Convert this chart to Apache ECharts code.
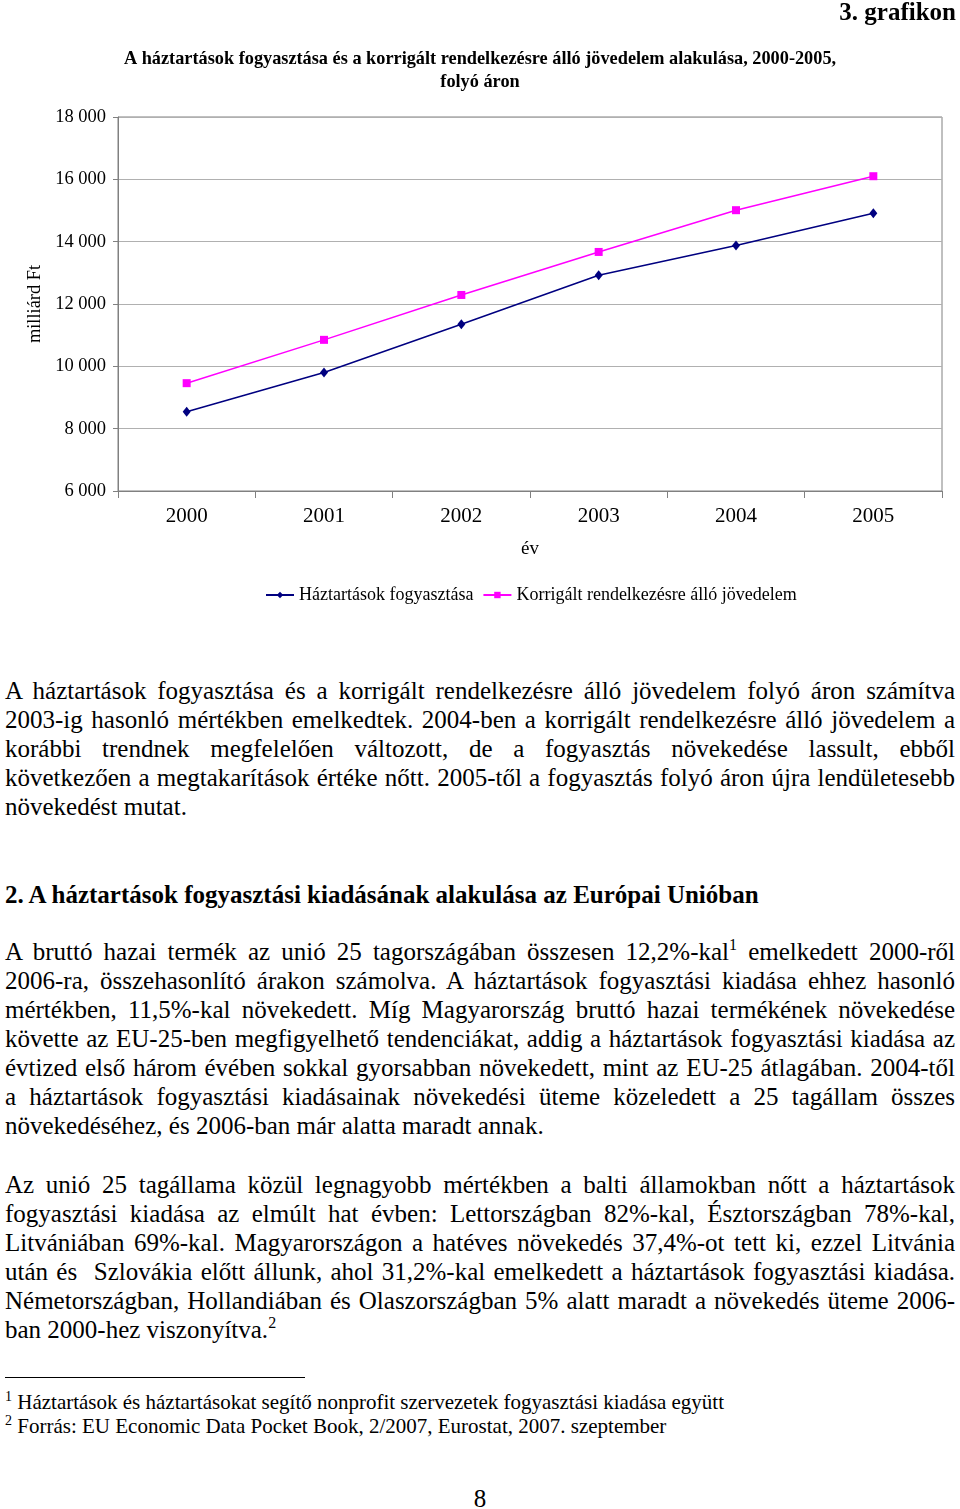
<!DOCTYPE html>
<html><head><meta charset="utf-8">
<script src="https://cdn.jsdelivr.net/npm/echarts@6/dist/echarts.min.js"></script>
<style>
html,body{margin:0;padding:0;background:#fff;width:960px;height:1509px;overflow:hidden;}
#chart{position:absolute;left:0;top:0;width:960px;height:640px;}
.t{position:absolute;left:5px;width:950px;font-family:"Liberation Serif","Times New Roman",serif;font-size:25px;line-height:29px;color:#000;white-space:nowrap;}
.j{text-align:justify;text-align-last:justify;}
.t sup{font-size:16px;line-height:0;vertical-align:0;position:relative;top:-10px;}
.fn{font-size:21px;line-height:24px;}
.fn sup{font-size:14px;top:-8px;}
.h{font-weight:bold;}
</style></head>
<body>
<div id="chart"></div>
<div id="text"></div>
<script>
const years = ['2000','2001','2002','2003','2004','2005'];
const consumption = [8540, 9800, 11350, 12920, 13880, 14910];
const income = [9460, 10850, 12290, 13670, 15010, 16100];
const seriesNames = ['Háztartások fogyasztása','Korrigált rendelkezésre álló jövedelem'];
const yMin = 6000, yMax = 18000, yStep = 2000;

const font = 'Liberation Serif';
const chart = echarts.init(document.getElementById('chart'), null, {renderer:'canvas'});
chart.setOption({
  animation:false,
  textStyle:{fontFamily:font,color:'#000'},
  title:[
    {text:'3. grafikon', right:4, top:1, padding:0, textStyle:{fontFamily:font,fontSize:25,fontWeight:'bold',color:'#000'}}
  ],
  graphic:[
    {type:'text', left:'center', top:50, style:{
      text:'A háztartások fogyasztása és a korrigált rendelkezésre álló jövedelem alakulása, 2000-2005,',
      fontFamily:font, fontSize:18.3, fontWeight:'bold', fill:'#000'}},
    {type:'text', left:'center', top:73, style:{
      text:'folyó áron',
      fontFamily:font, fontSize:18.3, fontWeight:'bold', fill:'#000'}}
  ],
  legend:{
    left:260, top:581, itemWidth:28, itemHeight:8, itemGap:9,
    textStyle:{fontFamily:font,fontSize:18,color:'#000'},
    data:seriesNames
  },
  grid:{left:118, right:18, top:117, bottom:149, show:true, borderColor:'#808080', borderWidth:1},
  xAxis:{
    type:'category', data:years, boundaryGap:true,
    name:'év', nameLocation:'middle', nameGap:49,
    nameTextStyle:{fontFamily:font,fontSize:19,color:'#000'},
    axisLine:{lineStyle:{color:'#808080',width:1}},
    axisTick:{show:true,length:7,lineStyle:{color:'#808080'}},
    axisLabel:{fontFamily:font,fontSize:21,color:'#000',margin:15}
  },
  yAxis:{
    type:'value', min:yMin, max:yMax, interval:yStep,
    name:'milliárd Ft', nameLocation:'middle', nameGap:72, nameRotate:90,
    nameTextStyle:{fontFamily:font,fontSize:18.4,color:'#000'},
    axisLine:{show:true,lineStyle:{color:'#808080',width:1}},
    axisTick:{show:true,length:5,lineStyle:{color:'#808080'}},
    axisLabel:{fontFamily:font,fontSize:18.5,color:'#000',margin:12,
      formatter:v=>String(v).replace(/\B(?=(\d{3})+(?!\d))/g,' ')},
    splitLine:{lineStyle:{color:'#b0b0b0',width:1}}
  },
  series:[
    {name:seriesNames[0], type:'line', data:consumption, symbol:'diamond', symbolSize:[8,10],
     itemStyle:{color:'#000080'}, lineStyle:{color:'#000080',width:1.5}},
    {name:seriesNames[1], type:'line', data:income, symbol:'rect', symbolSize:8,
     itemStyle:{color:'#ff00ff'}, lineStyle:{color:'#ff00ff',width:1.5}}
  ]
});

const lines = [
  [690,'A háztartások fogyasztása és a korrigált rendelkezésre álló jövedelem folyó áron számítva','j'],
  [719,'2003-ig hasonló mértékben emelkedtek. 2004-ben a korrigált rendelkezésre álló jövedelem a','j'],
  [748,'korábbi trendnek megfelelően változott, de a fogyasztás növekedése lassult, ebből','j'],
  [777,'következően a megtakarítások értéke nőtt. 2005-től a fogyasztás folyó áron újra lendületesebb','j'],
  [806,'növekedést mutat.',''],
  [894,'2. A háztartások fogyasztási kiadásának alakulása az Európai Unióban','h'],
  [951,'A bruttó hazai termék az unió 25 tagországában összesen 12,2%-kal<sup>1</sup> emelkedett 2000-ről','j'],
  [980,'2006-ra, összehasonlító árakon számolva. A háztartások fogyasztási kiadása ehhez hasonló','j'],
  [1009,'mértékben, 11,5%-kal növekedett. Míg Magyarország bruttó hazai termékének növekedése','j'],
  [1038,'követte az EU-25-ben megfigyelhető tendenciákat, addig a háztartások fogyasztási kiadása az','j'],
  [1067,'évtized első három évében sokkal gyorsabban növekedett, mint az EU-25 átlagában. 2004-től','j'],
  [1096,'a háztartások fogyasztási kiadásainak növekedési üteme közeledett a 25 tagállam összes','j'],
  [1125,'növekedéséhez, és 2006-ban már alatta maradt annak.',''],
  [1184,'Az unió 25 tagállama közül legnagyobb mértékben a balti államokban nőtt a háztartások','j'],
  [1213,'fogyasztási kiadása az elmúlt hat évben: Lettországban 82%-kal, Észtországban 78%-kal,','j'],
  [1242,'Litvániában 69%-kal. Magyarországon a hatéves növekedés 37,4%-ot tett ki, ezzel Litvánia','j'],
  [1271,'után és&nbsp; Szlovákia előtt állunk, ahol 31,2%-kal emelkedett a háztartások fogyasztási kiadása.','j'],
  [1300,'Németországban, Hollandiában és Olaszországban 5% alatt maradt a növekedés üteme 2006-','j'],
  [1329,'ban 2000-hez viszonyítva.<sup>2</sup>','']
];
const box = document.getElementById('text');
let html = '';
for (const [y,t,c] of lines) html += `<div class="t ${c}" style="top:${y-14.5}px">${t}</div>`;
html += `<div style="position:absolute;left:5px;top:1377px;width:300px;height:1px;background:#000"></div>`;
html += `<div class="t fn" style="top:${1402-12}px"><sup>1</sup> Háztartások és háztartásokat segítő nonprofit szervezetek fogyasztási kiadása együtt</div>`;
html += `<div class="t fn" style="top:${1426-12}px"><sup>2</sup> Forrás: EU Economic Data Pocket Book, 2/2007, Eurostat, 2007. szeptember</div>`;
html += `<div class="t" style="top:${1498-14.5}px;left:0;width:960px;text-align:center;">8</div>`;
box.innerHTML = html;
</script>
</body></html>
